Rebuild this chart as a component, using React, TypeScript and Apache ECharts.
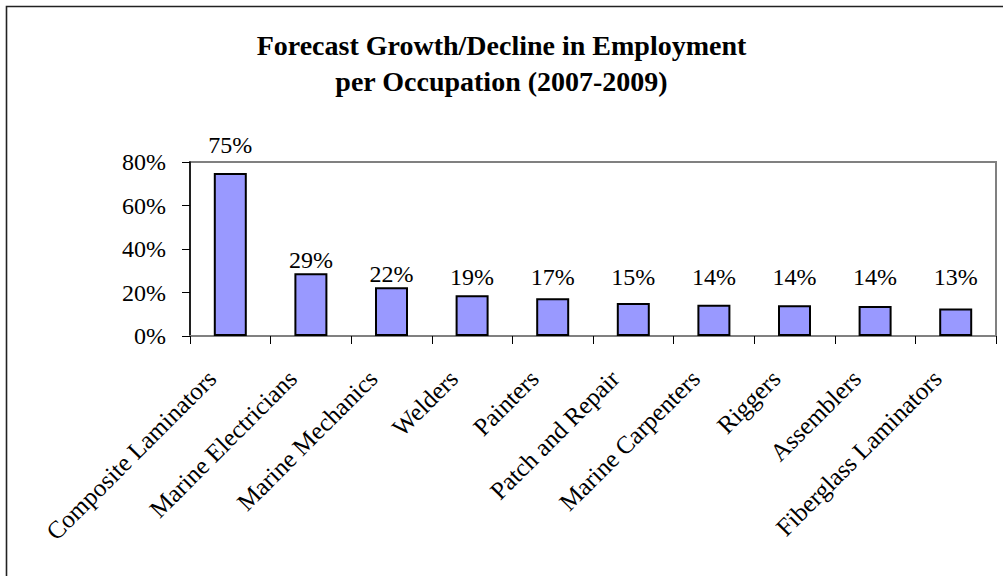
import React, { useEffect, useRef } from "react";
import * as echarts from "echarts";

const TITLE = "Forecast Growth/Decline in Employment\nper Occupation (2007-2009)";
const categories = [
  "Composite Laminators",
  "Marine Electricians",
  "Marine Mechanics",
  "Welders",
  "Painters",
  "Patch and Repair",
  "Marine Carpenters",
  "Riggers",
  "Assemblers",
  "Fiberglass Laminators",
];
const growthPct = [75, 28.8, 22.4, 18.7, 17.3, 15.2, 14.4, 14.1, 13.8, 12.7];
const yTicks = [0, 20, 40, 60, 80];

const FONT = "'Liberation Serif', 'Times New Roman', serif";
const GRID = { left: 190, top: 162, right: 7, bottom: 240 };
const PLOT_H = 576 - GRID.top - GRID.bottom;
const Y_MIN = yTicks[0];
const Y_MAX = yTicks[yTicks.length - 1];
const Y_STEP = yTicks[1] - yTicks[0];
const LABEL_FLOOR = 123; // lowest label baseline, px below plot top

function labelDistance(v: number): number {
  const px = PLOT_H / (Y_MAX - Y_MIN);
  const barTop = PLOT_H - (v - Y_MIN) * px;
  let baseline = Math.min(barTop - 5, LABEL_FLOOR);
  if (baseline - 18 < 0) baseline = -9;
  return Math.max(0, barTop - baseline - 4);
}

export default function App() {
  const ref = useRef<HTMLDivElement>(null);
  useEffect(() => {
    if (!ref.current) return;
    const chart = echarts.init(ref.current, undefined, { renderer: "svg" });
    chart.setOption({
      animation: false,
      backgroundColor: "#ffffff",
      title: {
        text: TITLE,
        left: "center",
        top: 22,
        textStyle: {
          fontFamily: FONT,
          fontWeight: "bold",
          fontSize: 28,
          lineHeight: 36,
          color: "#000",
        },
      },
      graphic: [
        {
          type: "rect",
          shape: { x: 6.5, y: 6.5, width: 1100, height: 700 },
          style: { fill: "none", stroke: "#222", lineWidth: 1.6 },
          silent: true,
        },
      ],
      grid: {
        ...GRID,
        show: true,
        borderColor: "#808080",
        borderWidth: 2,
        backgroundColor: "transparent",
        containLabel: false,
      },
      xAxis: {
        type: "category",
        data: categories,
        axisLine: { show: true, lineStyle: { color: "#808080", width: 2 } },
        axisTick: { show: true, length: 8, lineStyle: { color: "#000", width: 1 } },
        axisLabel: {
          rotate: 45,
          interval: 0,
          margin: 20,
          padding: [0, 26, 0, 0],
          fontFamily: FONT,
          fontSize: 25,
          color: "#000",
        },
        splitLine: { show: false },
      },
      yAxis: {
        type: "value",
        min: Y_MIN,
        max: Y_MAX,
        interval: Y_STEP,
        axisLine: { show: true, lineStyle: { color: "#000", width: 1.5 } },
        axisTick: { show: true, length: 8, lineStyle: { color: "#000", width: 1 } },
        axisLabel: {
          margin: 24,
          formatter: "{value}%",
          fontFamily: FONT,
          fontSize: 24,
          color: "#000",
        },
        splitLine: { show: false },
      },
      series: [
        {
          type: "bar",
          barWidth: 33,
          data: growthPct.map((v) => ({
            value: v,
            label: { distance: labelDistance(v) },
          })),
          itemStyle: { color: "#9999FF", borderColor: "#000", borderWidth: 2 },
          label: {
            show: true,
            position: "top",
            formatter: (p: any) => `${Math.round(p.value)}%`,
            fontFamily: FONT,
            fontSize: 24,
            color: "#000",
          },
        },
      ],
    });
    return () => chart.dispose();
  }, []);
  return (
    <div
      ref={ref}
      style={{ position: "absolute", left: 0, top: 0, width: 1003, height: 576 }}
    />
  );
}
